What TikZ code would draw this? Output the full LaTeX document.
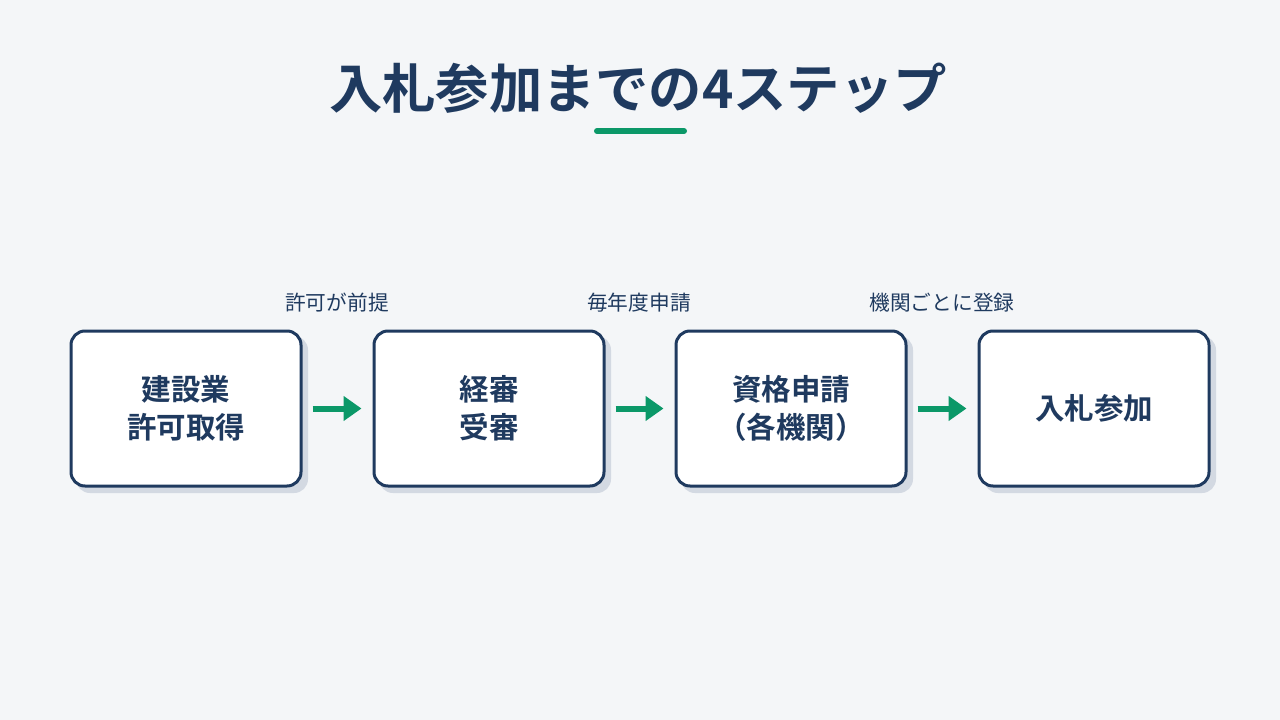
\documentclass[tikz,border=0pt]{standalone}
\usepackage{fontspec}
\setmainfont{Noto Sans CJK JP}
\newfontfamily\jpbold{Noto Sans CJK JP Bold}
\usetikzlibrary{arrows.meta}
\definecolor{bgc}{HTML}{F4F6F8}
\definecolor{navy}{HTML}{1F3A5F}
\definecolor{grn}{HTML}{0B9868}
\definecolor{shd}{HTML}{D3D9E2}
\tikzset{
  stepbox/.style={draw=navy, line width=3pt, fill=white, rounded corners=14pt,
    minimum width=230pt, minimum height=155pt, align=center, text=navy,
    font=\jpbold\fontsize{29.5}{38}\selectfont, inner sep=0pt},
  shadowbox/.style={fill=shd, rounded corners=14pt, minimum width=232pt, minimum height=157pt, inner sep=0pt},
  flow/.style={draw=grn, line width=6pt, -{Triangle[length=18pt,width=24pt]}, shorten >=0pt},
  steplabel/.style={text=navy, font=\fontsize{20.7}{24}\selectfont},
}
\begin{document}
\begin{tikzpicture}[x=1pt,y=-1pt]
\useasboundingbox[fill=bgc] (0,0) rectangle (1280,720);
\node[text=navy, font=\jpbold\fontsize{53.3}{60}\selectfont] (title) at (638,88) {入札参加までの4ステップ};
\draw[grn, line width=6pt, line cap=round] (597,131) -- (684,131);
\foreach \cx in {186,489,791,1094}{
  \node[shadowbox] at (\cx+6,414.5) {};
}
\node[stepbox] (s1) at (186,408.5) {建設業\\許可取得};
\node[stepbox] (s2) at (489,408.5) {経審\\受審};
\node[stepbox] (s3) at (791,408.5) {資格申請\\（各機関）};
\node[stepbox] (s4) at (1094,408.5) {入札参加};
\draw[flow] ([xshift=10pt]s1.east) -- ([xshift=-11pt]s2.west);
\draw[flow] ([xshift=10pt]s2.east) -- ([xshift=-11pt]s3.west);
\draw[flow] ([xshift=10pt]s3.east) -- ([xshift=-11pt]s4.west);
\node[steplabel] (l1) at (337,303) {許可が前提};
\node[steplabel] (l2) at (639,303) {毎年度申請};
\node[steplabel] (l3) at (942,303) {機関ごとに登録};
\end{tikzpicture}
\end{document}
